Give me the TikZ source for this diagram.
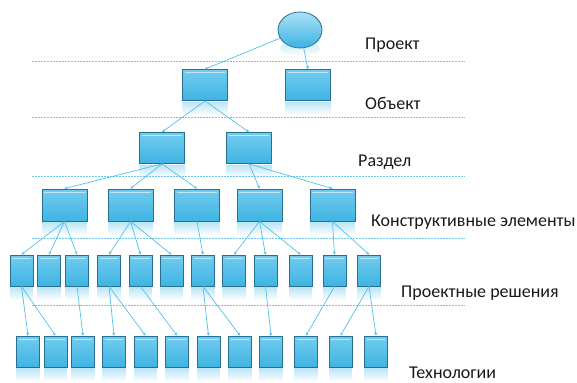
\documentclass[tikz,border=0pt]{standalone}
\usepackage{fontspec}
\setmainfont{Carlito}
\usetikzlibrary{arrows.meta,shapes.geometric,fadings}
\definecolor{boxfill}{RGB}{62,180,226}
\definecolor{boxtop}{RGB}{115,204,240}
\definecolor{boxedge}{RGB}{40,112,142}
\definecolor{conn}{RGB}{80,192,234}
\definecolor{guidecol}{RGB}{110,200,238}
\definecolor{txt}{RGB}{25,25,25}
\tikzset{
  blk/.style={rectangle, draw=boxedge, line width=0.8pt, top color=boxtop, bottom color=boxfill, inner sep=0pt, minimum height=31pt},
  wide/.style={blk, minimum width=45pt},
  narrow/.style={blk, minimum width=23pt},
  orb/.style={ellipse, draw=boxedge, line width=0.8pt, top color=boxtop!60!white, bottom color=boxfill, inner sep=0pt, minimum width=44pt, minimum height=36pt},
  link/.style={draw=conn, line width=0.7pt, -{Stealth[length=3pt,width=3pt]}},
  guideline/.style={draw=guidecol, line width=0.8pt, dash pattern=on 1.5pt off 1.5pt},
  lbl/.style={anchor=west, font=\fontsize{18}{21}\selectfont, text=txt, inner sep=0pt},
}
\begin{document}
\begin{tikzpicture}[x=1pt,y=-1pt]
\useasboundingbox (0,0) rectangle (577,382);
% guide lines
\foreach \y in {61,117,176,238,305}
  \draw[guideline] (32,\y) -- (465,\y);
% root
\node[orb] (p) at (300,30) {};
% level 1
\node[wide] (a1) at (205,85) {};
\node[wide] (a2) at (308,85) {};
% level 2
\node[wide] (b1) at (162,148) {};
\node[wide] (b2) at (249,148) {};
% level 3
\foreach \i/\x in {1/64.5,2/130.5,3/197,4/259.5,5/332.5}
  \node[wide, minimum height=32pt] (c\i) at (\x,205) {};
% level 4
\foreach \i/\x in {1/21.5,2/49,3/77,4/109,5/140.5,6/171.5,7/203,8/234,9/265.5,10/300.5,11/334.5,12/369}
  \node[narrow] (d\i) at (\x,270.5) {};
% level 5
\foreach \i/\x in {1/28,2/55.5,3/83,4/114,5/145.5,6/177,7/208.5,8/240,9/271,10/306,11/340.5,12/376}
  \node[narrow] (e\i) at (\x,351.5) {};
% reflections and highlights
\foreach \n in {a1,a2,b1,b2,c1,c2,c3,c4,c5,d1,d2,d3,d4,d5,d6,d7,d8,d9,d10,d11,d12,e1,e2,e3,e4,e5,e6,e7,e8,e9,e10,e11,e12}{
  \fill[boxfill, opacity=0.35, path fading=south] ([yshift=-1pt]\n.south west) rectangle ([yshift=-14pt]\n.south east);
  \draw[white, opacity=0.55, line width=1.2pt] ([xshift=2.5pt,yshift=-3.5pt]\n.north west) -- ([xshift=-2.5pt,yshift=-3.5pt]\n.north east);
}
\fill[boxfill, opacity=0.3, path fading=south] (p.south) ellipse [x radius=20pt, y radius=8pt];
% connectors
\draw[link] (p) -- (a1.north);
\draw[link] (p) -- (a2.north);
\draw[link] (a1.south) -- (b1.north);
\draw[link] (a1.south) -- (b2.north);
\foreach \c in {1,2,3} \draw[link] (b1.south) -- (c\c.north);
\foreach \c in {4,5} \draw[link] (b2.south) -- (c\c.north);
\foreach \p/\c in {c1/d1,c1/d2,c1/d3,c2/d4,c2/d5,c2/d6,c3/d7,c4/d8,c4/d9,c4/d10,c5/d11,c5/d12}
  \draw[link] (\p.south) -- (\c.north);
\foreach \p/\c in {d1/e1,d1/e2,d3/e3,d4/e4,d4/e5,d5/e6,d7/e7,d7/e8,d9/e9,d11/e10,d12/e11,d12/e12}
  \draw[link] (\p.south) -- (\c.north);
% labels
\node[lbl] (t0) at (365,45) {Проект};
\node[lbl] (t1) at (365,103) {Объект};
\node[lbl] (t2) at (358,162) {Раздел};
\node[lbl] (t3) at (371,222) {Конструктивные элементы};
\node[lbl] (t4) at (401,293) {Проектные решения};
\node[lbl] (t5) at (409,373) {Технологии};
\end{tikzpicture}
\end{document}
